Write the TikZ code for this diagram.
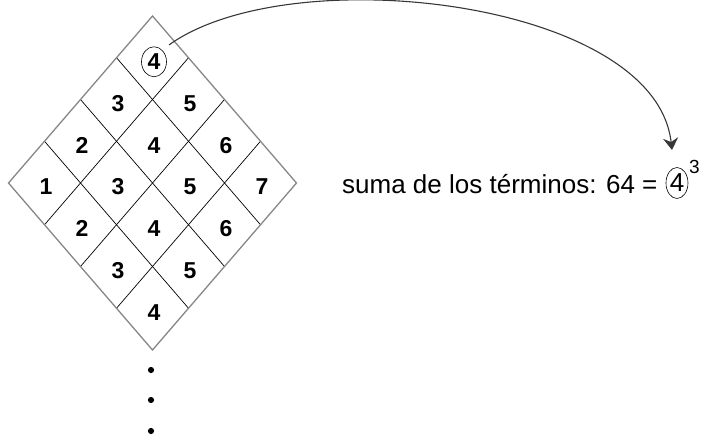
\documentclass[tikz,border=0pt]{standalone}
\usepackage{fontspec}
\setmainfont{Liberation Sans}
\usetikzlibrary{
    arrows.meta,
    calc,
    shapes.geometric
}
\definecolor{ink}{RGB}{0,0,0}
\definecolor{rim}{RGB}{135,135,135}
\definecolor{curve}{RGB}{55,55,55}
\tikzset{
    line cap=round,
    line join=round,
    rimline/.style={draw=rim, line width=1.3pt},
    gridline/.style={draw=ink, line width=0.7pt},
    cell/.style={
        font=\bfseries\fontsize{23}{23}\selectfont,
        text=ink,
        inner sep=0pt
    },
    topcell/.style={
        cell,
        ellipse,
        draw=ink,
        line width=0.6pt,
        minimum width=25pt,
        minimum height=30pt
    },
    sumtext/.style={
        font=\fontsize{26}{26}\selectfont,
        text=ink,
        inner sep=0pt
    },
    ringed/.style={
        sumtext,
        ellipse,
        draw=ink,
        line width=0.6pt,
        inner sep=0pt,
        minimum width=22pt,
        minimum height=31pt
    },
    power/.style={
        font=\fontsize{19}{19}\selectfont,
        text=ink,
        inner sep=0pt
    },
    sumarrow/.style={
        -{Stealth[length=12pt, width=15pt, inset=4pt]},
        draw=curve,
        line width=1.1pt
    },
    moredot/.style={fill=ink}
}

\begin{document}
\begin{tikzpicture}[x=1pt, y=-1pt]
\useasboundingbox (0,0) rectangle (706,441);

% Diamond corners
\coordinate (L) at (8.5,183);
\coordinate (T) at (152.5,16);
\coordinate (R) at (296.5,183);
\coordinate (B) at (152.5,350);

% Grid lines
\foreach \k in {1,2,3}{
    \draw[gridline] ($(L)!\k*0.25!(T)$) -- ($(B)!\k*0.25!(R)$);
    \draw[gridline] ($(L)!\k*0.25!(B)$) -- ($(T)!\k*0.25!(R)$);
}

% Outline
\draw[rimline] (L) -- (T) -- (R) -- (B) -- cycle;

% Cell values
\foreach \a in {0,...,3}{
    \foreach \b in {0,...,3}{
        \pgfmathtruncatemacro{\val}{\a+\b+1}
        \ifnum\a\b=30 \def\cellsty{topcell}\else\def\cellsty{cell}\fi
        \node[\cellsty] (c\a\b) at ({10+36*(\a+\b+1)}, {187+41.75*(\b-\a)}) {\val};
    }
}

% Dots below
\foreach \y in {370,400,431}
    \fill[moredot] (151,\y) circle (3.1);

% Sum of the terms
\node[sumtext, anchor=base west] (sum) at (342,193) {suma de los términos: 64 =};
\node[ringed, anchor=west] (ring) at ([shift={(8,-10)}]sum.base east) {4};
\node[power, anchor=south west] (cube) at ([shift={(4,2)}]ring.north east) {3};

% Arrow
\coordinate (arrowstart) at ([shift={(6,-6)}]c30.north east);
\coordinate (arrowend) at (672,150);
\draw[sumarrow] (arrowstart) .. controls (290,-42) and (655,0) .. (arrowend);
\end{tikzpicture}
\end{document}
